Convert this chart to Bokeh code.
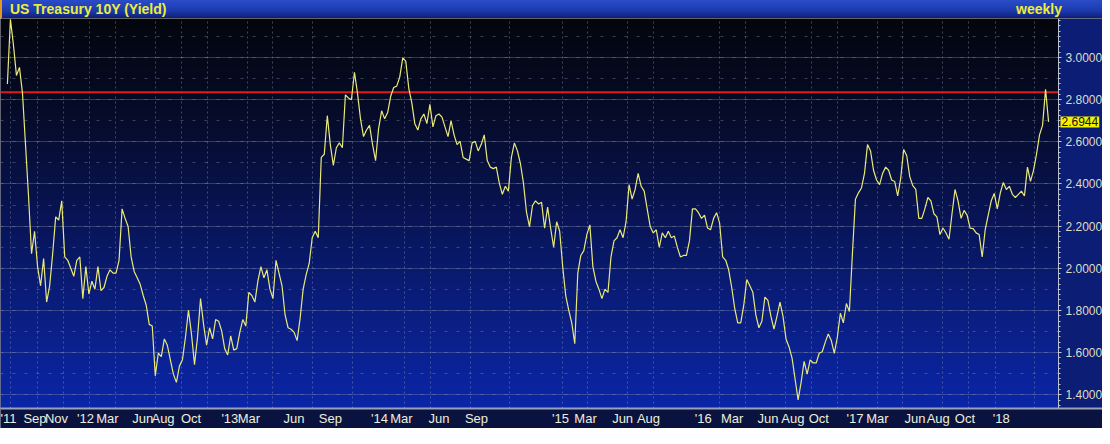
import numpy as np
import pandas as pd
from bokeh.plotting import figure
from bokeh.layouts import column
from bokeh.models import (Range1d, FixedTicker, SingleIntervalTicker, NumeralTickFormatter,
                          Span, Label, Grid, Div, BoxAnnotation)
from bokeh.embed import file_html
from bokeh.resources import INLINE

# ---------------- data ----------------
title_text = "US Treasury 10Y (Yield)"
frequency_text = "weekly"
start_date = "2011-06-24"          # first weekly close shown
level = 2.835                      # red horizontal level line

yields = [
    2.874, 3.181, 3.06, 2.915, 2.953, 2.83, 2.587, 2.343, 2.069, 2.176,
    2.008, 1.917, 2.046, 1.84, 1.917, 2.069, 2.244, 2.229, 2.32, 2.054,
    2.038, 2.0, 1.962, 2.038, 2.054, 1.856, 2.008, 1.878, 1.939, 1.901,
    2.008, 1.894, 1.909, 1.962, 1.993, 1.977, 1.977, 2.038, 2.282, 2.237,
    2.198, 2.054, 1.985, 1.955, 1.924, 1.871, 1.825, 1.734, 1.726, 1.49,
    1.597, 1.581, 1.665, 1.635, 1.566, 1.498, 1.459, 1.536, 1.566, 1.673,
    1.802, 1.688, 1.543, 1.673, 1.856, 1.734, 1.635, 1.718, 1.665, 1.757,
    1.749, 1.703, 1.619, 1.589, 1.68, 1.612, 1.619, 1.696, 1.757, 1.726,
    1.886, 1.871, 1.84, 1.939, 2.008, 1.955, 1.993, 1.901, 1.856, 2.038,
    1.977, 1.917, 1.78, 1.718, 1.711, 1.696, 1.657, 1.764, 1.901, 1.97,
    2.023, 2.145, 2.176, 2.145, 2.526, 2.541, 2.724, 2.587, 2.488, 2.572,
    2.595, 2.572, 2.823, 2.808, 2.80, 2.93, 2.831, 2.709, 2.625, 2.656,
    2.678, 2.587, 2.511, 2.663, 2.747, 2.709, 2.739, 2.816, 2.858, 2.864,
    2.907, 2.998, 2.983, 2.854, 2.785, 2.686, 2.656, 2.709, 2.732, 2.686,
    2.778, 2.671, 2.724, 2.732, 2.717, 2.671, 2.625, 2.701, 2.633, 2.587,
    2.602, 2.526, 2.518, 2.511, 2.595, 2.602, 2.557, 2.587, 2.633, 2.511,
    2.48, 2.473, 2.48, 2.404, 2.351, 2.389, 2.366, 2.526, 2.595, 2.557,
    2.496, 2.404, 2.267, 2.198, 2.298, 2.32, 2.305, 2.313, 2.19, 2.29,
    2.19, 2.10, 2.221, 2.176, 2.008, 1.871, 1.802, 1.741, 1.642, 1.977,
    2.061, 2.084, 2.16, 2.206, 2.008, 1.939, 1.901, 1.856, 1.901, 1.886,
    2.054, 2.13, 2.145, 2.183, 2.145, 2.221, 2.397, 2.328, 2.374, 2.45,
    2.389, 2.366, 2.282, 2.198, 2.168, 2.183, 2.099, 2.168, 2.145, 2.176,
    2.145, 2.153, 2.099, 2.054, 2.061, 2.061, 2.13, 2.282, 2.282, 2.264,
    2.237, 2.252, 2.191, 2.183, 2.237, 2.264, 2.214, 2.054, 2.038, 1.993,
    1.909, 1.81, 1.741, 1.741, 1.825, 1.947, 1.917, 1.886, 1.779, 1.718,
    1.749, 1.863, 1.848, 1.772, 1.711, 1.772, 1.84, 1.772, 1.665, 1.627,
    1.574, 1.475, 1.376, 1.459, 1.559, 1.498, 1.566, 1.551, 1.551, 1.597,
    1.604, 1.65, 1.688, 1.657, 1.597, 1.673, 1.787, 1.741, 1.833, 1.795,
    2.069, 2.328, 2.358, 2.381, 2.45, 2.587, 2.557, 2.465, 2.419, 2.397,
    2.45, 2.48, 2.465, 2.419, 2.412, 2.343, 2.427, 2.564, 2.534, 2.435,
    2.392, 2.374, 2.237, 2.237, 2.282, 2.336, 2.32, 2.259, 2.244, 2.16,
    2.191, 2.168, 2.138, 2.259, 2.374, 2.32, 2.237, 2.275, 2.252, 2.191,
    2.188, 2.168, 2.16, 2.054, 2.183, 2.252, 2.32, 2.355, 2.282, 2.358,
    2.407, 2.374, 2.389, 2.351, 2.336, 2.351, 2.366, 2.343, 2.48, 2.412,
    2.465, 2.541, 2.633, 2.678, 2.849, 2.6944,
]
dates = pd.date_range(start_date, periods=len(yields), freq="7D")

# bottom-axis labels and where the terminal draws them
tick_labels = ["'11", "Sep", "Nov", "'12", "Mar", "Jun", "Aug", "Oct",
               "'13", "Mar", "Jun", "Sep", "'14", "Mar", "Jun", "Sep",
               "'15", "Mar", "Jun", "Aug", "'16", "Mar", "Jun", "Aug", "Oct",
               "'17", "Mar", "Jun", "Aug", "Oct", "'18"]
tick_dates = ["2011-06-25", "2011-08-27", "2011-10-16", "2011-12-22", "2012-02-11",
              "2012-05-03", "2012-06-19", "2012-08-23", "2012-11-21", "2013-01-04",
              "2013-04-19", "2013-07-12", "2013-11-03", "2013-12-24", "2014-03-21",
              "2014-06-16", "2014-12-28", "2015-02-24", "2015-05-21", "2015-07-20",
              "2015-11-24", "2016-01-30", "2016-04-22", "2016-06-19", "2016-08-18",
              "2016-11-10", "2017-01-01", "2017-03-29", "2017-05-22", "2017-07-23",
              "2017-10-15"]
# vertical grid lines at the month starts those labels stand for
grid_dates = ["2011-07-01", "2011-09-01", "2011-11-01", "2012-01-01", "2012-03-01",
              "2012-06-01", "2012-08-01", "2012-10-01", "2013-01-01", "2013-03-01",
              "2013-06-01", "2013-09-01", "2014-01-01", "2014-03-01", "2014-06-01",
              "2014-09-01", "2015-01-01", "2015-03-01", "2015-06-01", "2015-08-01",
              "2016-01-01", "2016-03-01", "2016-06-01", "2016-08-01", "2016-10-01",
              "2017-01-01", "2017-03-01", "2017-06-01", "2017-08-01", "2017-10-01",
              "2018-01-01"]

x_view = ("2011-06-08", "2018-02-25")   # visible date span of the chart area
y_view = (1.335, 3.185)


def to_ms(values):
    return [int(pd.Timestamp(v).value // 10**6) for v in values]


tick_ms = to_ms(tick_dates)
grid_ms = to_ms(grid_dates)
x0_ms, x1_ms = to_ms(x_view)

# ---------------- layout / styles ----------------
FONT = "Liberation Sans"
YELLOW = "#eded3c"
W, H_BAR, H_FIG = 1102, 18, 410
SCALE_W = 44                                   # width of the right-hand price scale
x_ext_ms = x0_ms + (x1_ms - x0_ms) * W / (W - SCALE_W)   # frame also spans the scale

header = Div(
    text=(
        f'<div style="box-sizing:border-box;width:{W}px;height:{H_BAR}px;'
        'display:flex;align-items:center;justify-content:space-between;'
        'background:linear-gradient(to bottom,#2a4cc8 0%,#1c3aae 60%,#0e1f72 100%);'
        'border-left:2px solid #e8961e;padding:0 40px 0 8px;'
        f"font-family:'{FONT}',Arial,sans-serif;font-weight:bold;font-size:14px;"
        f'color:{YELLOW};line-height:{H_BAR}px;">'
        f'<span>{title_text}</span><span>{frequency_text}</span></div>'
    ),
    width=W, height=H_BAR, margin=0,
)

p = figure(width=W, height=H_FIG, title=None, x_axis_type="datetime", y_axis_location="right",
           x_range=Range1d(x0_ms, x_ext_ms), y_range=Range1d(*y_view),
           output_backend="svg", toolbar_location=None,
           min_border_left=0, min_border_right=0, min_border_top=0, min_border_bottom=18)
p.margin = 0
p.outline_line_color = None
p.border_fill_color = "#0a1340"
p.background_fill_color = "#06091a"

# chart-area background gradient (dark at top, blue at bottom)
n = 256
t = np.linspace(0.0, 1.0, n)  # 0 = bottom, 1 = top
stops = [0.0, 0.25, 0.5, 0.75, 1.0]
rgb = {"r": [11, 10, 8, 6, 4], "g": [38, 30, 20, 12, 6], "b": [168, 128, 84, 42, 13]}
img = np.empty((n, 1), dtype=np.uint32)
view = img.view(dtype=np.uint8).reshape((n, 1, 4))
view[:, 0, 0] = np.interp(t, stops, rgb["r"]).astype(np.uint8)
view[:, 0, 1] = np.interp(t, stops, rgb["g"]).astype(np.uint8)
view[:, 0, 2] = np.interp(t, stops, rgb["b"]).astype(np.uint8)
view[:, 0, 3] = 255
bg = p.image_rgba(image=[img], x=x0_ms, y=y_view[0], dw=x1_ms - x0_ms, dh=y_view[1] - y_view[0])
bg.level = "image"

# grids
p.xgrid.ticker = FixedTicker(ticks=grid_ms)
p.xgrid.grid_line_color = "#8a92b0"
p.xgrid.grid_line_alpha = 0.45
p.xgrid.grid_line_dash = "2 3"
p.ygrid.ticker = SingleIntervalTicker(interval=0.2)
p.ygrid.grid_line_color = "#8a92b0"
p.ygrid.grid_line_alpha = 0.35
half_grid = Grid(dimension=1, ticker=SingleIntervalTicker(interval=0.1),
                 grid_line_color="#8a92b0", grid_line_alpha=0.4, grid_line_dash="3 9")
p.add_layout(half_grid)

# red level line
red = Span(location=level, dimension="width", line_color="#e3191c", line_width=2)
red.level = "underlay"
p.add_layout(red)

# right-hand price-scale panel (covers grids and red line beyond the chart area)
scale_panel = BoxAnnotation(left=x1_ms, fill_color="#0b1d74", fill_alpha=1.0, line_color=None)
scale_panel.level = "underlay"
p.add_layout(scale_panel)

# series
p.line(dates, yields, line_color="#e9e97a", line_width=1.2)

# right axis, pinned at the edge of the chart area
ya = p.yaxis[0]
ya.fixed_location = x1_ms
ya.ticker = SingleIntervalTicker(interval=0.2, num_minor_ticks=8)
ya.formatter = NumeralTickFormatter(format="0.0000")
ya.axis_line_color = "#b8bece"
ya.major_tick_line_color = "#c8ccd8"
ya.minor_tick_line_color = "#c8ccd8"
ya.major_tick_in = 0
ya.major_tick_out = 3
ya.minor_tick_in = 0
ya.minor_tick_out = 2
ya.major_label_standoff = 4
ya.major_label_text_font = FONT
ya.major_label_text_font_size = "12px"
ya.major_label_text_color = "#dcdcc6"

# bottom axis
xa = p.xaxis[0]
xa.ticker = FixedTicker(ticks=tick_ms)
xa.major_label_overrides = {ms: lab for ms, lab in zip(tick_ms, tick_labels)}
xa.background_fill_color = "#0a1340"
xa.axis_line_color = "#9aa2b8"
xa.axis_line_width = 2
xa.major_tick_line_color = None
xa.minor_tick_line_color = None
xa.major_tick_in = 0
xa.major_tick_out = 0
xa.minor_tick_in = 0
xa.minor_tick_out = 0
xa.major_label_standoff = 2
xa.major_label_text_font = FONT
xa.major_label_text_font_size = "13px"
xa.major_label_text_color = "#eeeedc"

# last-value tag on the price scale
tag = Label(x=x1_ms, y=yields[-1], x_offset=2, text=f"{yields[-1]:.4f}",
            text_align="left", text_baseline="middle", text_font=FONT,
            text_font_size="12px", text_color="#111111",
            background_fill_color="#f3f300", padding=1)
p.add_layout(tag)

layout = column(header, p, spacing=0)
open("out.html", "w").write(file_html(layout, INLINE))
